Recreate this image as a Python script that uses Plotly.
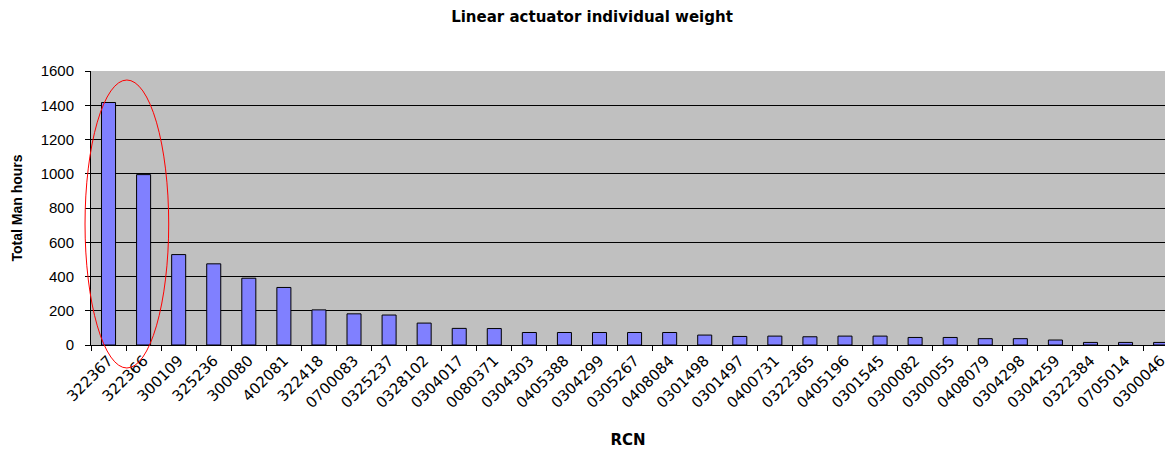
import plotly.graph_objects as go

categories = ["322367", "322366", "300109", "325236", "300080", "402081", "322418",
              "0700083", "0325237", "0328102", "0304017", "0080371", "0304303", "0405388",
              "0304299", "0305267", "0408084", "0301498", "0301497", "0400731", "0322365",
              "0405196", "0301545", "0300082", "0300055", "0408079", "0304298", "0304259",
              "0322384", "0705014", "0300046"]
man_hours = [1416, 995, 528, 474, 390, 336, 205, 182, 175, 128, 97, 96, 73, 73, 73, 73, 73,
             58, 50, 52, 48, 52, 52, 44, 44, 37, 37, 29, 15, 15, 15]
y_ticks = [0, 200, 400, 600, 800, 1000, 1200, 1400, 1600]

FONT = "Liberation Sans, Arial, sans-serif"
WIDE = "DejaVu Sans, Liberation Sans, sans-serif"

fig = go.Figure()
fig.add_trace(go.Bar(
    x=categories, y=man_hours,
    marker=dict(color="#8080FF", line=dict(color="#000000", width=1)),
))

L, T, W, H = 91, 71, 1169, 450
B = 345
plot_w = W - L
plot_h = B - T

def px_x(p):
    return (p - L) / plot_w

def px_y(p):
    return (B - p) / plot_h

fig.update_layout(
    width=W, height=H,
    margin=dict(l=L, r=0, t=T, b=H - B),
    paper_bgcolor="white",
    plot_bgcolor="#C0C0C0",
    bargap=0.6,
    showlegend=False,
    title=dict(text="<b>Linear actuator individual weight</b>", x=592 / W, xanchor="center",
               y=1 - 17 / H, yanchor="middle",
               font=dict(family=WIDE, size=15, color="black")),
    font=dict(family=FONT, size=12, color="black"),
    xaxis=dict(
        type="category",
        range=[-0.5, -0.5 + plot_w / 35.2],
        tickangle=-45,
        tickson="boundaries",
        ticks="outside", ticklen=5, tickcolor="black",
        showline=True, linecolor="black", linewidth=1,
        showgrid=False,
        tickfont=dict(family=WIDE, size=15, color="black"),
        title=dict(text="<b>RCN</b>", font=dict(family=WIDE, size=15, color="black"), standoff=23),
    ),
    yaxis=dict(
        range=[0, 1600],
        tickvals=y_ticks,
        ticks="outside", ticklen=5, tickcolor="black",
        ticklabelstandoff=8,
        showline=True, linecolor="black", linewidth=1,
        showgrid=True, gridcolor="#000000", gridwidth=1,
        zeroline=False,
        tickfont=dict(family=FONT, size=15, color="black"),
        title=dict(text="<b>Total Man hours</b>", font=dict(family=FONT, size=14, color="black"), standoff=14),
    ),
    shapes=[dict(
        type="circle", xref="paper", yref="paper",
        x0=px_x(85), x1=px_x(169), y0=px_y(368), y1=px_y(80),
        line=dict(color="#FF0000", width=1),
        fillcolor="rgba(0,0,0,0)", layer="above",
    )],
)

fig.write_html("out.html")
